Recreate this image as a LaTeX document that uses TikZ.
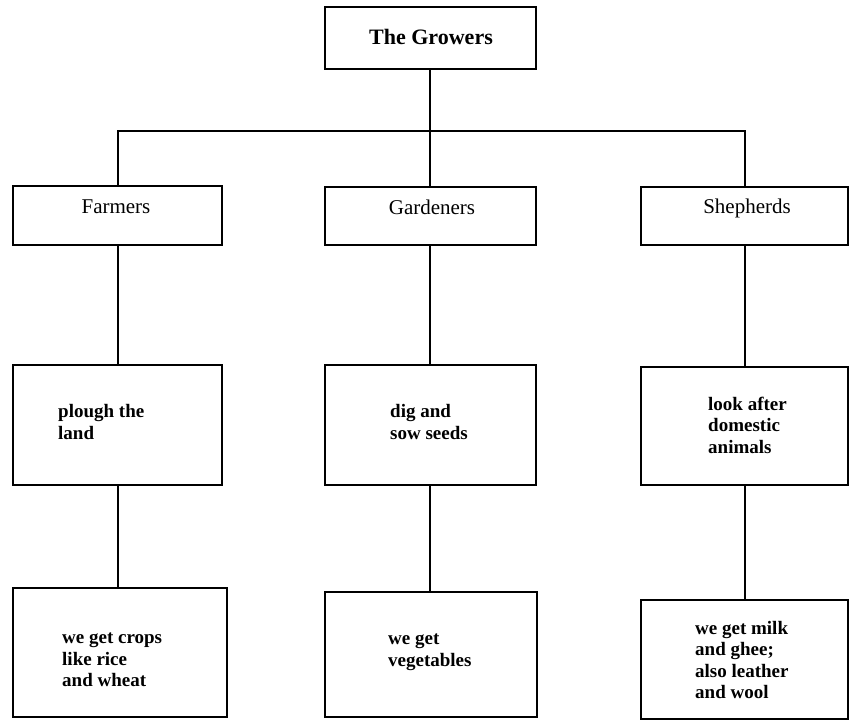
\documentclass[tikz,border=0pt]{standalone}
\usepackage{fontspec}
\setmainfont{Liberation Serif}
\begin{document}
\begin{tikzpicture}[x=1pt,y=-1pt,
  box/.style={draw, line width=2pt, inner sep=0pt},
  conn/.style={line width=2pt},
  head/.style={font=\bfseries\fontsize{22}{26}\selectfont, inner sep=0pt},
  lbl/.style={font=\fontsize{21}{24}\selectfont, inner sep=0pt},
  txt/.style={font=\bfseries\fontsize{19}{21.5}\selectfont, align=left, inner sep=0pt, anchor=west}]
\useasboundingbox (0,0) rectangle (854,722);
% boxes
\node[box, minimum width=211pt, minimum height=62pt] (top) at (430,38) {};
\node[box, minimum width=209pt, minimum height=59pt] (f1) at (117.5,215.5) {};
\node[box, minimum width=211pt, minimum height=58pt] (g1) at (430,216) {};
\node[box, minimum width=207pt, minimum height=58pt] (s1) at (744.5,216) {};
\node[box, minimum width=209pt, minimum height=120pt] (f2) at (117.5,425) {};
\node[box, minimum width=211pt, minimum height=120pt] (g2) at (430,425) {};
\node[box, minimum width=207pt, minimum height=118pt] (s2) at (744.5,426) {};
\node[box, minimum width=214pt, minimum height=129pt] (f3) at (120,652.5) {};
\node[box, minimum width=212pt, minimum height=125pt] (g3) at (431,654.5) {};
\node[box, minimum width=207pt, minimum height=119pt] (s3) at (744.5,659.5) {};
% texts
\node[head] (ttop) at (431,37) {The Growers};
\node[lbl] (tf1) at (116,207) {Farmers};
\node[lbl] (tg1) at (432,207) {Gardeners};
\node[lbl] (ts1) at (747,208) {Shepherds};
\node[txt] (tf2) at (58,422) {plough the\\land};
\node[txt] (tg2) at (390,422) {dig and\\sow seeds};
\node[txt] (ts2) at (708,425) {look after\\domestic\\animals};
\node[txt] (tf3) at (62,660) {we get crops\\like rice\\and wheat};
\node[txt] (tg3) at (388,652) {we get\\vegetables};
\node[txt] (ts3) at (695,660) {we get milk\\and ghee;\\also leather\\and wool};
% connectors
\coordinate (j) at (430,131);
\draw[conn] (top.south) -- (g1.north);
\draw[conn] (f1.north) |- (j) -| (s1.north);
\draw[conn] (f1.south) -- (f2.north);
\draw[conn] (g1.south) -- (g2.north);
\draw[conn] (s1.south) -- (s2.north);
\draw[conn] (f2.south) -- (f2.south |- f3.north);
\draw[conn] (g2.south) -- (g2.south |- g3.north);
\draw[conn] (s2.south) -- (s2.south |- s3.north);
\end{tikzpicture}
\end{document}
